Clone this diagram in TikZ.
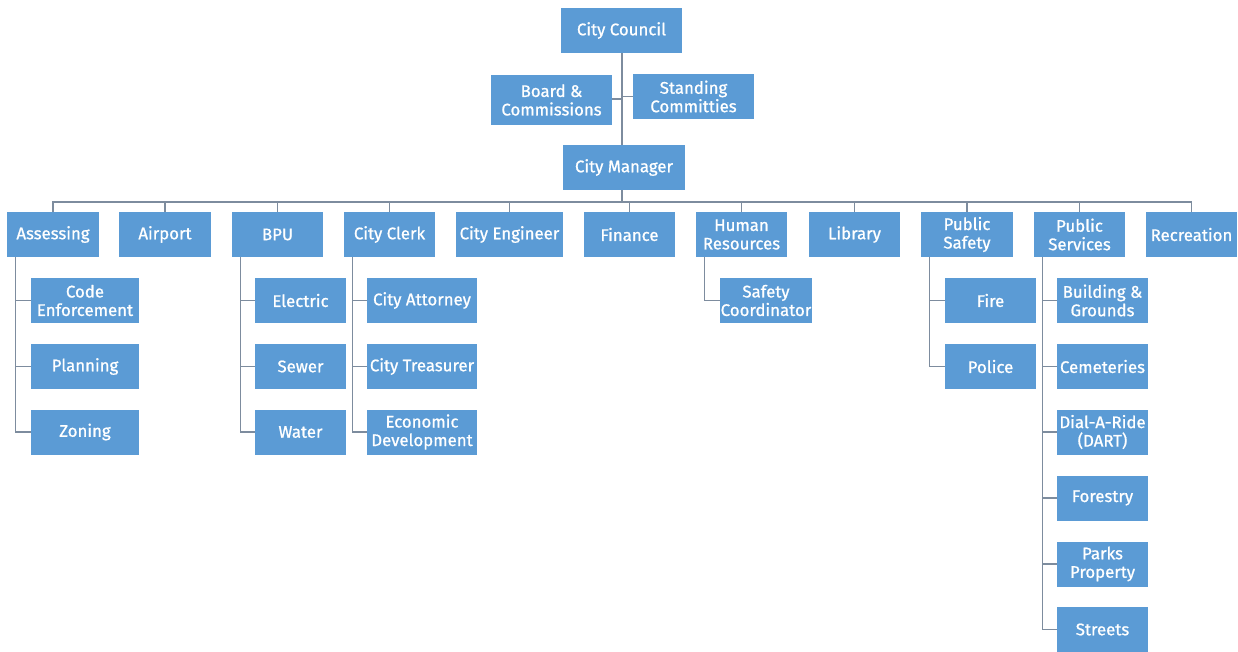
\documentclass[tikz,border=0pt]{standalone}
\usepackage{fontspec}
\setmainfont{Fira Sans}[FakeBold=0.9]
\definecolor{boxblue}{RGB}{91,155,213}
\definecolor{linegray}{RGB}{125,140,158}
\begin{document}
\begin{tikzpicture}[x=1pt,y=-1pt,
  box/.style={rectangle, fill=boxblue, text=white, align=center, inner sep=1pt,
    minimum height=45pt, font=\fontsize{16.8}{18.5}\selectfont},
  link/.style={draw=linegray, line width=1.3pt}]
\useasboundingbox (0,0) rectangle (1238,651);
% top
\node[box, minimum width=121pt] (council) at (621.5,30.5) {City Council};
\node[box, minimum width=121pt, minimum height=50pt] (board) at (551.5,100) {Board \&\\Commissions};
\node[box, minimum width=121pt] (standing) at (693.5,96.5) {Standing\\Committies};
\node[box, minimum width=122pt] (manager) at (624,167.5) {City Manager};
% departments
\node[box, minimum width=92pt] (assess) at (53,234.5) {Assessing};
\node[box, minimum width=92pt] (airport) at (165,234.5) {Airport};
\node[box, minimum width=91pt] (bpu) at (277.5,234.5) {BPU};
\node[box, minimum width=91pt] (clerk) at (389.5,234.5) {City Clerk};
\node[box, minimum width=107pt] (engineer) at (509.5,234.5) {City Engineer};
\node[box, minimum width=91pt] (finance) at (629.5,234.5) {Finance};
\node[box, minimum width=91pt] (hr) at (741.5,234.5) {Human\\Resources};
\node[box, minimum width=91pt] (library) at (854.5,234.5) {Library};
\node[box, minimum width=92pt] (psafety) at (967,234.5) {Public\\Safety};
\node[box, minimum width=91pt] (pserv) at (1079.5,234.5) {Public\\Services};
\node[box, minimum width=91pt] (recre) at (1191.5,234.5) {Recreation};
% assessing children
\node[box, minimum width=108pt] (code) at (85,300.5) {Code\\Enforcement};
\node[box, minimum width=108pt] (planning) at (85,366.5) {Planning};
\node[box, minimum width=108pt] (zoning) at (85,432) {Zoning};
% bpu children
\node[box, minimum width=91pt] (electric) at (300.5,300.5) {Electric};
\node[box, minimum width=91pt] (sewer) at (300.5,366.5) {Sewer};
\node[box, minimum width=91pt] (water) at (300.5,432) {Water};
% clerk children
\node[box, minimum width=110pt] (attorney) at (422,300.5) {City Attorney};
\node[box, minimum width=110pt] (treasurer) at (422,366.5) {City Treasurer};
\node[box, minimum width=110pt] (econ) at (422,432) {Economic\\Development};
% hr child
\node[box, minimum width=92pt] (safetyc) at (766,300.5) {Safety\\Coordinator};
% public safety children
\node[box, minimum width=91pt] (fire) at (990.5,300.5) {Fire};
\node[box, minimum width=91pt] (police) at (990.5,366.5) {Police};
% public services children
\node[box, minimum width=91pt] (building) at (1102.5,300.5) {Building \&\\Grounds};
\node[box, minimum width=91pt] (cemeteries) at (1102.5,366.5) {Cemeteries};
\node[box, minimum width=91pt] (dart) at (1102.5,432) {Dial-A-Ride\\(DART)};
\node[box, minimum width=91pt] (forestry) at (1102.5,498) {Forestry};
\node[box, minimum width=91pt] (parks) at (1102.5,564) {Parks\\Property};
\node[box, minimum width=91pt] (streets) at (1102.5,629.5) {Streets};
% connectors top
\coordinate (busy) at (0,202);
\draw[link] ([xshift=0.5pt]council.south) -- ([xshift=0.5pt]council.south |- manager.north);
\draw[link] (board.east |- 0,99) -- ([xshift=0.5pt]council.south |- 0,99);
\draw[link] (standing.west) -- ([xshift=0.5pt]council.south |- standing.west);
\draw[link] ([xshift=-2pt]manager.south) -- ([xshift=-2pt]manager.south |- busy);
\draw[link] (assess.north) -- (assess.north |- busy) -- (recre.north |- busy) -- (recre.north);
\foreach \n in {airport,bpu,clerk,engineer,finance,hr,library,psafety,pserv}
  \draw[link] (\n.north) -- (\n.north |- busy);
% children connectors
\foreach \p/\c in {assess/code,assess/planning,assess/zoning,
                   bpu/electric,bpu/sewer,bpu/water,
                   clerk/attorney,clerk/treasurer,clerk/econ,
                   hr/safetyc,psafety/fire,psafety/police,
                   pserv/building,pserv/cemeteries,pserv/dart,pserv/forestry,pserv/parks,pserv/streets}
  \draw[link] ([xshift=9pt]\p.south west) |- (\c.west);
\end{tikzpicture}
\end{document}
